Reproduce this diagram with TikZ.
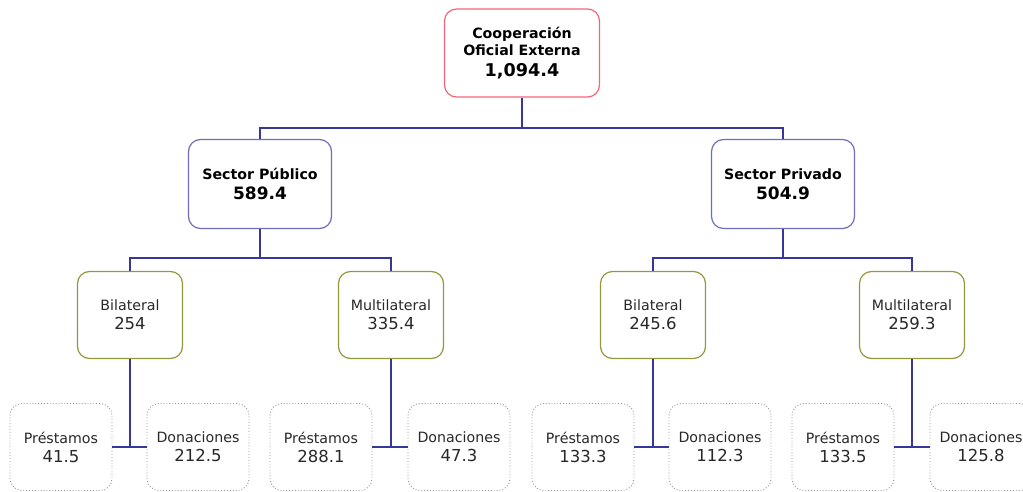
\documentclass[tikz,border=0pt]{standalone}
\usepackage{fontspec}
\setmainfont{DejaVu Sans}
\usepackage{xcolor}
\definecolor{rootred}{RGB}{245,100,120}
\definecolor{sectorblue}{RGB}{110,110,190}
\definecolor{typeolive}{RGB}{150,150,60}
\definecolor{leafgray}{RGB}{150,150,150}
\definecolor{linkblue}{RGB}{55,55,155}
\definecolor{plaintext}{RGB}{40,40,40}

\tikzset{
  rootbox/.style={draw=rootred, line width=1.2pt, rectangle, rounded corners=12pt, fill=white, minimum width=155pt, minimum height=88pt, align=center, font=\fontsize{14.2}{17}\selectfont\bfseries},
  sectorbox/.style={draw=sectorblue, line width=1.2pt, rectangle, rounded corners=12pt, fill=white, minimum width=143pt, minimum height=89pt, align=center, font=\fontsize{14.2}{20}\selectfont\bfseries},
  typebox/.style={draw=typeolive, line width=1.2pt, rectangle, rounded corners=12pt, fill=white, minimum width=105pt, minimum height=87pt, align=center, text=plaintext, font=\fontsize{14.2}{19}\selectfont},
  leafbox/.style={draw=leafgray, line width=0.9pt, dotted, rectangle, rounded corners=12pt, fill=white, minimum width=102pt, minimum height=87pt, align=center, text=plaintext, font=\fontsize{14.2}{19}\selectfont},
  link/.style={draw=linkblue, line width=1.9pt}
}

\begin{document}
\begin{tikzpicture}[x=1pt, y=-1pt]
  \useasboundingbox (0,0) rectangle (1023,492);

  \node[rootbox] (root) at (522,53) {Cooperación\\Oficial Externa\\[4pt]{\fontsize{17.6}{21}\selectfont 1,094.4}};

  \node[sectorbox] (pub) at (260,184) {Sector Público\\{\fontsize{17}{20}\selectfont 589.4}};
  \node[sectorbox] (priv) at (783,184) {Sector Privado\\{\fontsize{17}{20}\selectfont 504.9}};

  \node[typebox] (pubbil) at (130,315) {Bilateral\\{\fontsize{16.5}{19}\selectfont 254}};
  \node[typebox] (pubmul) at (391,315) {Multilateral\\{\fontsize{16.5}{19}\selectfont 335.4}};
  \node[typebox] (privbil) at (653,315) {Bilateral\\{\fontsize{16.5}{19}\selectfont 245.6}};
  \node[typebox] (privmul) at (912,315) {Multilateral\\{\fontsize{16.5}{19}\selectfont 259.3}};

  % loans and grants
  \node[leafbox] (pubbilpre) at (61,447) {Préstamos\\{\fontsize{16.5}{19}\selectfont 41.5}};
  \node[leafbox] (pubbildon) at (198,447) {Donaciones\\{\fontsize{16.5}{19}\selectfont 212.5}};
  \node[leafbox] (pubmulpre) at (321,447) {Préstamos\\{\fontsize{16.5}{19}\selectfont 288.1}};
  \node[leafbox] (pubmuldon) at (459,447) {Donaciones\\{\fontsize{16.5}{19}\selectfont 47.3}};
  \node[leafbox] (privbilpre) at (583,447) {Préstamos\\{\fontsize{16.5}{19}\selectfont 133.3}};
  \node[leafbox] (privbildon) at (720,447) {Donaciones\\{\fontsize{16.5}{19}\selectfont 112.3}};
  \node[leafbox] (privmulpre) at (843,447) {Préstamos\\{\fontsize{16.5}{19}\selectfont 133.5}};
  \node[leafbox] (privmuldon) at (981,447) {Donaciones\\{\fontsize{16.5}{19}\selectfont 125.8}};

  \draw[link] (root.south) -- ++(0,30) -| (pub.north);
  \draw[link] (root.south) -- ++(0,30) -| (priv.north);
  \draw[link] (pub.south) -- ++(0,29) -| (pubbil.north);
  \draw[link] (pub.south) -- ++(0,29) -| (pubmul.north);
  \draw[link] (priv.south) -- ++(0,29) -| (privbil.north);
  \draw[link] (priv.south) -- ++(0,29) -| (privmul.north);

  \draw[link] (pubbil.south) -- (pubbil.south |- pubbilpre.east);
  \draw[link] (pubbilpre.east) -- (pubbildon.west);
  \draw[link] (pubmul.south) -- (pubmul.south |- pubmulpre.east);
  \draw[link] (pubmulpre.east) -- (pubmuldon.west);
  \draw[link] (privbil.south) -- (privbil.south |- privbilpre.east);
  \draw[link] (privbilpre.east) -- (privbildon.west);
  \draw[link] (privmul.south) -- (privmul.south |- privmulpre.east);
  \draw[link] (privmulpre.east) -- (privmuldon.west);
\end{tikzpicture}
\end{document}
